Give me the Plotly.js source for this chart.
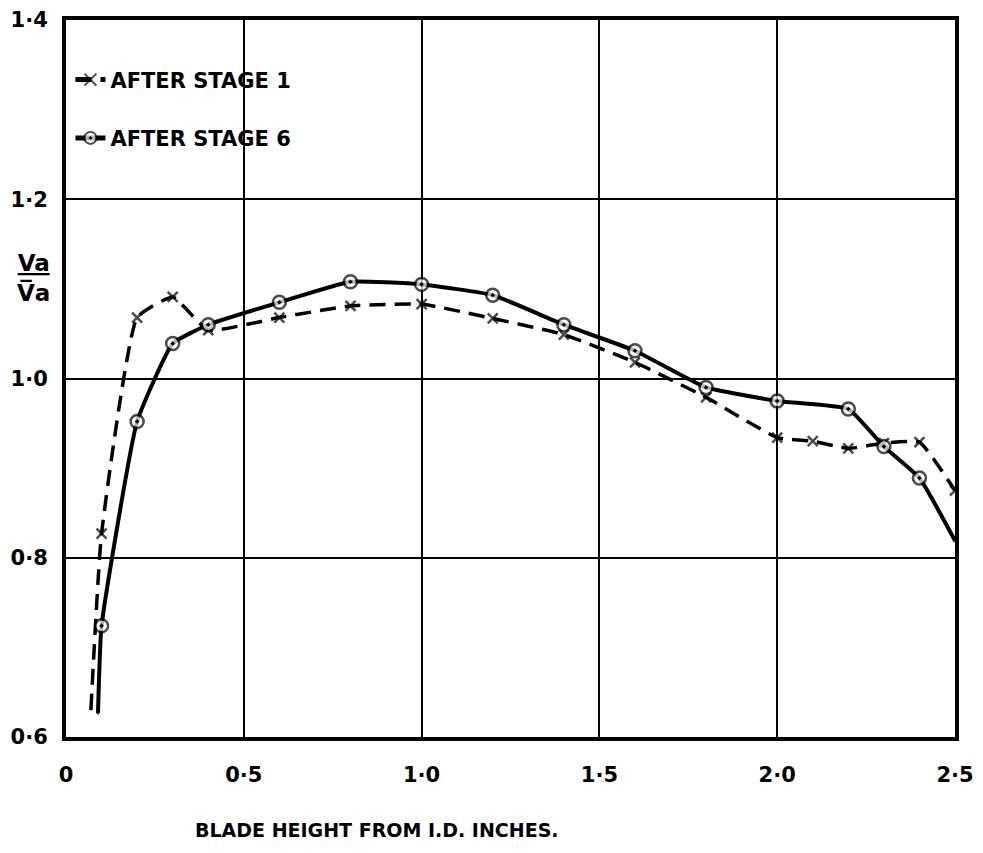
<!DOCTYPE html>
<html>
<head>
<meta charset="utf-8">
<script src="https://cdn.plot.ly/plotly-3.0.1.min.js"></script>
<style>html,body{margin:0;padding:0;background:#fff;}#chart{width:983px;height:853px;}</style>
</head>
<body>
<div id="chart"></div>
<script>
// Blade height from I.D. (inches)
const stage1X = [0.07, 0.1, 0.2, 0.3, 0.4, 0.6, 0.8, 1.0, 1.2, 1.4, 1.6, 1.8, 2.0, 2.1, 2.2, 2.3, 2.4, 2.5];
const stage1Y = [0.63, 0.827, 1.068, 1.091, 1.054, 1.068, 1.081, 1.083, 1.067, 1.049, 1.018, 0.979, 0.934, 0.930, 0.922, 0.928, 0.929, 0.875];
const stage1Marked = [false, true, true, true, true, true, true, true, true, true, true, true, true, true, true, true, true, true];

const stage6X = [0.09, 0.1, 0.2, 0.3, 0.4, 0.6, 0.8, 1.0, 1.2, 1.4, 1.6, 1.8, 2.0, 2.2, 2.3, 2.4, 2.5];
const stage6Y = [0.627, 0.724, 0.952, 1.039, 1.060, 1.085, 1.108, 1.105, 1.093, 1.060, 1.031, 0.990, 0.975, 0.966, 0.924, 0.889, 0.819];
const stage6Marked = [false, true, true, true, true, true, true, true, true, true, true, true, true, true, true, true, false];

const xTickVals = [0, 0.5, 1.0, 1.5, 2.0, 2.5];
const xTickText = ["0", "0·5", "1·0", "1·5", "2·0", "2·5"];
const yTickVals = [0.6, 0.8, 1.0, 1.2, 1.4];
const yTickText = ["0·6", "0·8", "1·0", "1·2", "1·4"];

const seriesNames = ["AFTER STAGE 1", "AFTER STAGE 6"];

const FONT = "DejaVu Sans, sans-serif";

const traces = [
  {
    x: stage1X, y: stage1Y, name: seriesNames[0], mode: "lines+markers", legendgroup: "s1",
    line: {color: "#000", width: 3.5, dash: "16px,9px", shape: "spline", smoothing: 0.4},
    marker: {symbol: "x-thin", size: stage1Marked.map(m => m ? 10 : 0), color: "#000", line: {color: "#000", width: 2.5}}
  },
  {
    x: stage6X, y: stage6Y, name: seriesNames[1], mode: "lines+markers", legendgroup: "s6",
    line: {color: "#000", width: 4, shape: "spline", smoothing: 0.4},
    marker: {symbol: "circle-dot", size: stage6Marked.map(m => m ? 13 : 0), color: "#fff", line: {color: "#000", width: 2.5}}
  }
];

const layout = {
  width: 983, height: 853,
  margin: {l: 66, r: 28, t: 20, b: 116},
  paper_bgcolor: "#fff", plot_bgcolor: "#fff",
  font: {family: FONT, color: "#000", size: 19},
  showlegend: true,
  legend: {
    x: 0.005, y: 0.945, xanchor: "left", yanchor: "top",
    bgcolor: "rgba(255,255,255,0)", borderwidth: 0,
    font: {family: FONT, size: 21, color: "#000", weight: "bold"},
    tracegroupgap: 28, itemsizing: "constant"
  },
  xaxis: {
    range: [0, 2.5], tickmode: "array", tickvals: xTickVals, ticktext: xTickText,
    showgrid: true, gridcolor: "#000", gridwidth: 2,
    showline: true, linecolor: "#000", linewidth: 4, mirror: true,
    zeroline: false, ticks: "", ticklabelstandoff: 16,
    tickfont: {family: FONT, size: 21, color: "#000", weight: "bold"}
  },
  yaxis: {
    range: [0.6, 1.4], tickmode: "array", tickvals: yTickVals, ticktext: yTickText,
    showgrid: true, gridcolor: "#000", gridwidth: 2,
    showline: true, linecolor: "#000", linewidth: 4, mirror: true,
    zeroline: false, ticks: "", ticklabelstandoff: 10,
    tickfont: {family: FONT, size: 21, color: "#000", weight: "bold"}
  },
  annotations: [
    {xref: "paper", yref: "paper", x: -0.037, y: 0.64, xanchor: "center", yanchor: "middle",
     text: "<u>Va</u><br>V\u0305a", showarrow: false, align: "center",
     font: {family: FONT, size: 23, color: "#000", weight: "bold"}},
    {xref: "paper", yref: "paper", x: 0.35, y: -0.13, xanchor: "center", yanchor: "middle",
     text: "BLADE HEIGHT FROM I.D. INCHES.", showarrow: false,
     font: {family: FONT, size: 19, color: "#000", weight: "bold"}}
  ]
};

Plotly.newPlot("chart", traces, layout, {displayModeBar: false, staticPlot: true});
</script>
</body>
</html>
